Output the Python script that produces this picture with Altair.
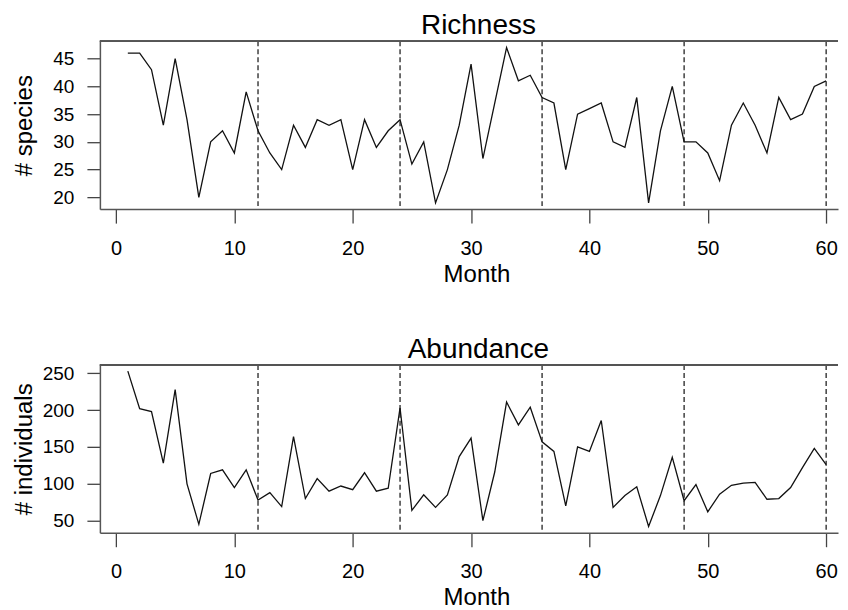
import altair as alt
import pandas as pd

months = list(range(1, 61))
richness = [46, 46, 43, 33, 45, 34, 20, 30, 32, 28, 39, 32, 28, 25, 33, 29, 34, 33, 34, 25,
            34, 29, 32, 34, 26, 30, 19, 25, 33, 44, 27, 37, 47, 41, 42, 38, 37, 25, 35, 36,
            37, 30, 29, 38, 19, 32, 40, 30, 30, 28, 23, 33, 37, 33, 28, 38, 34, 35, 40, 41]
abundance = [253, 202, 198, 128, 228, 100, 45, 114, 119, 95, 119, 78, 88, 69, 164, 80, 107, 90, 97, 92,
             115, 90, 94, 203, 64, 85, 68, 85, 137, 162, 50, 116, 211, 180, 204, 157, 144, 70, 150, 144,
             186, 68, 84, 96, 42, 84, 136, 77, 99, 62, 86, 98, 101, 102, 79, 80, 95, 122, 148, 126]
year_marks = [12, 24, 36, 48, 60]
x_ticks = [0, 10, 20, 30, 40, 50, 60]
rich_ticks = [20, 25, 30, 35, 40, 45]
abund_ticks = [50, 100, 150, 200, 250]

FONT = "Liberation Sans"
W = 739
H = 168
PX_PER_MONTH = 11.85


def r_range(vals):
    lo, hi = min(vals), max(vals)
    e = 0.04 * (hi - lo)
    return [lo - e, hi + e]


x_lo = 1 - 0.04 * 59
x_dom = [x_lo, x_lo + W / PX_PER_MONTH]


def panel(values, title, ytitle, yticks):
    df = pd.DataFrame({"Month": months, "v": values})
    marks = pd.DataFrame({"m": year_marks})
    xs = alt.Scale(domain=x_dom, nice=False, zero=False)
    ys = alt.Scale(domain=r_range(values), nice=False, zero=False)
    xaxis = alt.Axis(values=x_ticks, title="Month", tickSize=14, labelPadding=15,
                     labelFontSize=20, titleFontSize=24, titleFontWeight="normal",
                     titleY=72, titleX=377, titleBaseline="alphabetic", grid=False,
                     domainColor="#555", domainWidth=1.5, tickColor="#444", tickWidth=1.3,
                     labelColor="black", titleColor="black", labelFont=FONT, titleFont=FONT,
                     labelFlush=False)
    yaxis = alt.Axis(values=yticks, title=ytitle, tickSize=13, labelPadding=13,
                     labelFontSize=19, titleFontSize=24, titleFontWeight="normal",
                     titleX=-68, titleBaseline="alphabetic", grid=False,
                     domainColor="#555", domainWidth=1.5, tickColor="#444", tickWidth=1.3,
                     labelColor="black", titleColor="black", labelFont=FONT, titleFont=FONT,
                     labelFlush=False)
    line = alt.Chart(df).mark_line(color="#111", strokeWidth=1.3).encode(
        x=alt.X("Month:Q", scale=xs, axis=xaxis),
        y=alt.Y("v:Q", scale=ys, axis=yaxis),
    )
    rules = alt.Chart(marks).mark_rule(color="#111", strokeWidth=1.2, strokeDash=[5, 3]).encode(
        x=alt.X("m:Q", scale=xs)
    )
    top = alt.Chart(marks).mark_rule(color="#555", strokeWidth=1.5).encode(
        x=alt.value(0), x2=alt.value(W), y=alt.value(0)
    )
    ttl = alt.Chart(pd.DataFrame({"t": [title]})).mark_text(
        font=FONT, fontSize=28, color="black", baseline="alphabetic", align="center"
    ).encode(text="t:N", x=alt.value(379), y=alt.value(-7))
    return alt.layer(line, rules, top, ttl).properties(width=W, height=H)


chart = alt.vconcat(
    panel(richness, "Richness", "# species", rich_ticks),
    panel(abundance, "Abundance", "# individuals", abund_ticks),
    spacing=48,
).properties(
    padding={"left": 4, "top": 3, "right": 0, "bottom": 0}
).configure_view(stroke="transparent")

chart.save("out.html", embed_options={"renderer": "svg", "actions": False})
